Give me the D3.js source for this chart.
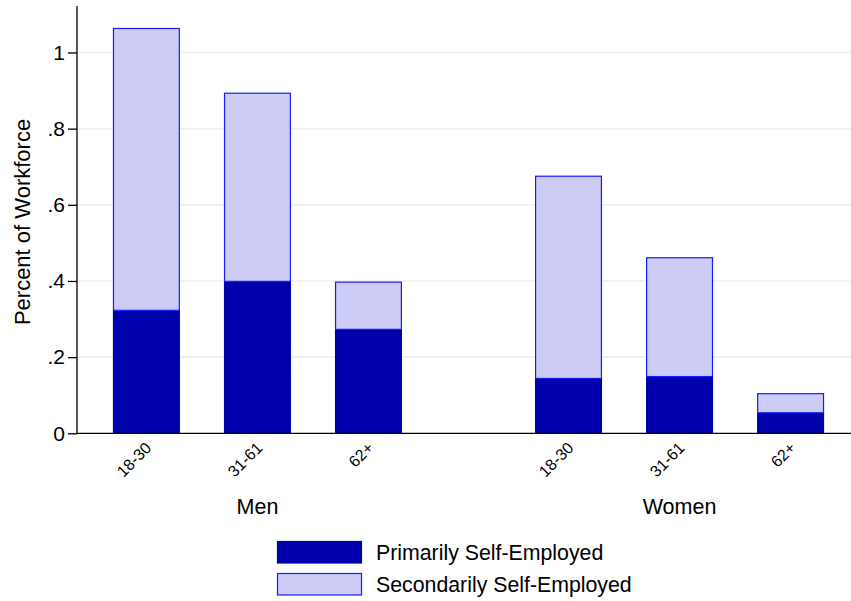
<!DOCTYPE html>
<html>
<head>
<meta charset="utf-8">
<script src="https://cdn.jsdelivr.net/npm/d3@7"></script>
<style>
  html, body { margin: 0; padding: 0; background: #fff; }
  svg { display: block; font-family: "Liberation Sans", Arial, Helvetica, sans-serif; }
</style>
</head>
<body>
<svg id="chart" width="851" height="601"></svg>
<script>
// ---- data ----
const groups = ["Men", "Women"];
const ages = ["18-30", "31-61", "62+"];
const primaryMen = [0.323, 0.399, 0.273];
const totalMen = [1.063, 0.893, 0.397];
const primaryWomen = [0.144, 0.149, 0.054];
const totalWomen = [0.675, 0.461, 0.104];
const yTicks = [0, 0.2, 0.4, 0.6, 0.8, 1];
const yTickLabels = ["0", ".2", ".4", ".6", ".8", "1"];
const seriesNames = ["Primarily Self-Employed", "Secondarily Self-Employed"];
const yTitle = "Percent of Workforce";

const rows = [];
groups.forEach((g, gi) => {
  const prim = gi === 0 ? primaryMen : primaryWomen;
  const tot = gi === 0 ? totalMen : totalWomen;
  ages.forEach((a, ai) => rows.push({ group: g, age: a, primary: prim[ai], total: tot[ai] }));
});

// ---- layout ----
const W = 851, H = 601;
const axisX = 77, y0 = 433.3, yTop = 6;
const colPrim = "#0000aa", colSecFill = "#ccccf4", colSecStroke = "#1a1aff";

const svg = d3.select("#chart");

const y = d3.scaleLinear().domain([0, 1.122]).range([y0, yTop]);
const xOuter = d3.scaleBand().domain(groups).range([axisX, 860]).paddingInner(0.315).paddingOuter(0.085);
const xInner = d3.scaleBand().domain(ages).range([0, xOuter.bandwidth()]).paddingInner(0.396).paddingOuter(0);

// gridlines
svg.append("g").selectAll("line").data(yTicks.filter(d => d > 0)).join("line")
  .attr("x1", axisX).attr("x2", W)
  .attr("y1", d => y(d)).attr("y2", d => y(d))
  .attr("stroke", "#eaf2f3").attr("stroke-width", 1.6);

// bars
const bx = d => xOuter(d.group) + xInner(d.age);
const bw = xInner.bandwidth();
const bars = svg.append("g");
bars.selectAll("rect.prim").data(rows).join("rect").attr("class", "prim")
  .attr("x", bx).attr("width", bw)
  .attr("y", d => y(d.primary)).attr("height", d => y(0) - y(d.primary))
  .attr("fill", colPrim);
bars.selectAll("rect.sec").data(rows).join("rect").attr("class", "sec")
  .attr("x", d => bx(d) + 0.6).attr("width", bw - 1.2)
  .attr("y", d => y(d.total)).attr("height", d => y(d.primary) - y(d.total))
  .attr("fill", colSecFill).attr("stroke", colSecStroke).attr("stroke-width", 1.2);

// y axis
const yAxis = d3.axisLeft(y).tickValues(yTicks).tickSize(9).tickPadding(3)
  .tickFormat((d, i) => yTickLabels[i]);
const gy = svg.append("g").attr("transform", `translate(${axisX},0)`).call(yAxis);
gy.select(".domain").attr("d", `M0,${yTop}V${y0}`).attr("stroke", "#000").attr("stroke-width", 1.3);
gy.selectAll(".tick line").attr("stroke", "#000").attr("stroke-width", 1.3);
gy.selectAll(".tick text").attr("font-size", 21).attr("fill", "#000")
  .attr("font-family", "Liberation Sans, Arial, sans-serif");

// x axis line
svg.append("line").attr("x1", axisX).attr("x2", W).attr("y1", y0).attr("y2", y0)
  .attr("stroke", "#000").attr("stroke-width", 1.3);

// x tick labels (rotated)
svg.append("g").selectAll("text").data(rows).join("text")
  .attr("transform", d => `translate(${bx(d) + bw / 2 + 6},${449}) rotate(-45)`)
  .attr("text-anchor", "end")
  .attr("font-size", 16)
  .attr("fill", "#000")
  .text(d => d.age);

// group labels
svg.append("g").selectAll("text").data(groups).join("text")
  .attr("x", g => xOuter(g) + xOuter.bandwidth() / 2)
  .attr("y", 514)
  .attr("text-anchor", "middle")
  .attr("font-size", 21.5)
  .attr("fill", "#000")
  .text(g => g);

// y title
svg.append("text")
  .attr("transform", `translate(30,${222}) rotate(-90)`)
  .attr("text-anchor", "middle")
  .attr("font-size", 22)
  .attr("fill", "#000")
  .text(yTitle);

// legend
const leg = svg.append("g");
const legRows = [
  { name: seriesNames[0], fill: colPrim, stroke: colPrim, y: 541 },
  { name: seriesNames[1], fill: colSecFill, stroke: colSecStroke, y: 573 }
];
leg.selectAll("rect").data(legRows).join("rect")
  .attr("x", 277.5).attr("y", d => d.y + 0.5).attr("width", 84).attr("height", 21.5)
  .attr("fill", d => d.fill).attr("stroke", d => d.stroke).attr("stroke-width", 1.2);
leg.selectAll("text").data(legRows).join("text")
  .attr("x", 376).attr("y", d => d.y + 19)
  .attr("font-size", 21.3)
  .attr("fill", "#000")
  .text(d => d.name);
</script>
</body>
</html>
